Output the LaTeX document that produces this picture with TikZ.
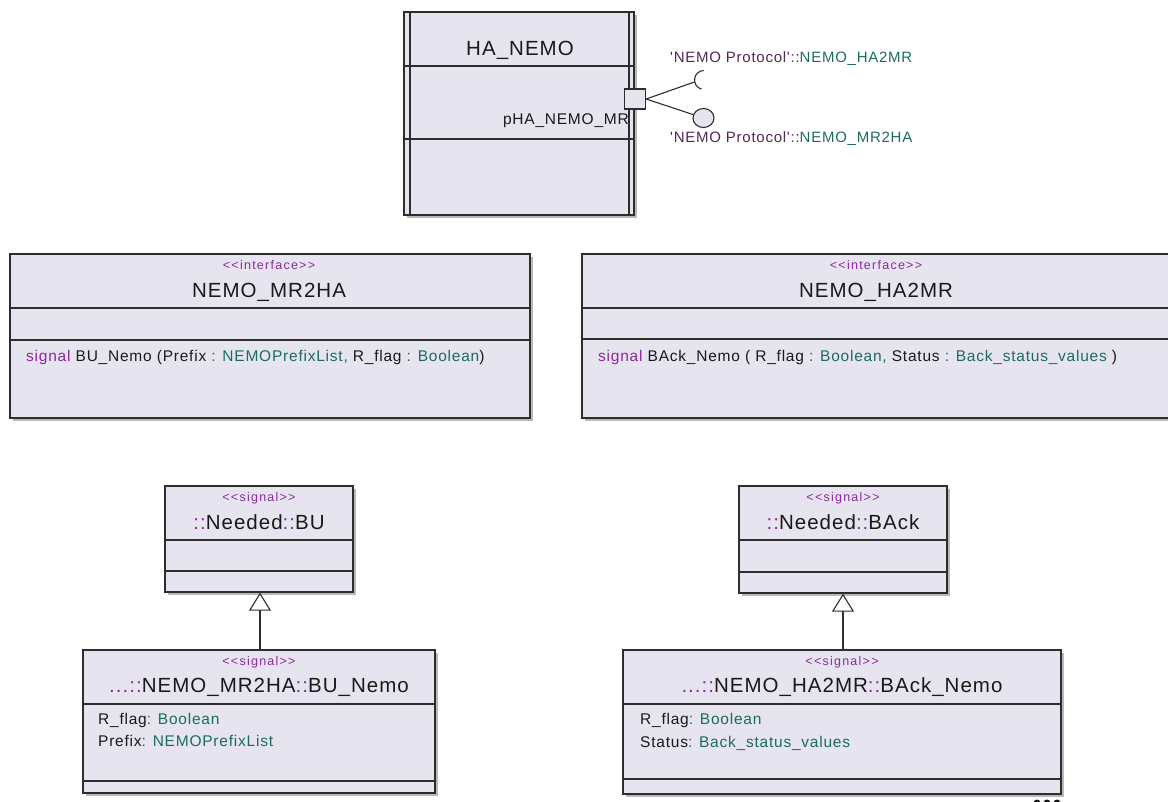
\documentclass[tikz,border=0pt]{standalone}
\usepackage{fontspec}
\setmainfont{Liberation Sans}
\newfontfamily\umlf[LetterSpace=5]{Liberation Sans}
\newfontfamily\umlst[LetterSpace=10]{Liberation Sans}
\usetikzlibrary{arrows.meta,fit,shadows,shapes.geometric}
\definecolor{boxfill}{RGB}{230,228,238}
\definecolor{stpurple}{RGB}{140,42,160}
\definecolor{protopurple}{RGB}{85,38,85}
\definecolor{typeteal}{RGB}{28,108,94}
\definecolor{edgecol}{RGB}{45,45,45}
\definecolor{txtcol}{RGB}{25,25,25}
\definecolor{shadowcol}{RGB}{190,182,182}
\newcommand{\st}[1]{\textcolor{stpurple}{#1}}
\newcommand{\ty}[1]{\textcolor{typeteal}{#1}}
\begin{document}
\begin{tikzpicture}[x=1pt,y=-1pt,
  umlbox/.style={draw=edgecol,line width=1.3pt,fill=boxfill,inner sep=0pt,
    drop shadow={shadow xshift=3pt,shadow yshift=-3pt,fill=shadowcol,opacity=1}},
  sepline/.style={draw=edgecol,line width=1.1pt},
  stereo/.style={font=\umlst\fontsize{12.5}{14}\selectfont,text=stpurple,inner sep=0pt,anchor=base},
  cname/.style={font=\umlf\fontsize{20.5}{24}\selectfont,text=txtcol,inner sep=0pt,anchor=base},
  body/.style={font=\umlf\fontsize{15.5}{18}\selectfont,text=txtcol,inner sep=0pt,anchor=base west},
  proto/.style={font=\umlf\fontsize{15}{18}\selectfont,text=protopurple,inner sep=0pt,anchor=base west},
  conn/.style={draw=edgecol,line width=1.1pt},
  gen/.style={draw=edgecol,line width=1.1pt,-{Triangle[open,fill=white,length=18pt,width=22pt]}}
]
\useasboundingbox (0,0) rectangle (1168,802);
\clip (0,0) rectangle (1168,802);

% ---------- HA_NEMO active class ----------
\node[umlbox,fit={(404,12)(634,215)}] (ha) {};
\draw[sepline] (410,12) -- (410,215);
\draw[sepline] (629,12) -- (629,215);
\draw[sepline] (404,66) -- (634,66);
\draw[sepline] (404,139) -- (634,139);
\node[cname] (haname) at (520,56) {HA\_NEMO};
\node[body,anchor=base east] (portlbl) at (629,125) {pHA\_NEMO\_MR};
\node[draw=edgecol,line width=1.2pt,fill=boxfill,minimum width=21pt,minimum height=20pt,inner sep=0pt] (port) at (635,99) {};
\coordinate (sockc) at (704,80);
\coordinate (sockend) at (694.5,82);
\node[draw=edgecol,line width=1.1pt,fill=boxfill,ellipse,minimum width=21pt,minimum height=19pt,inner sep=0pt] (ball) at (703.5,118) {};
\draw[conn] (port.east) -- (sockend);
\draw[conn] (port.east) -- (ball);
\draw[conn] (sockc) ++(105:9.5) arc[start angle=105,end angle=268,radius=9.5];
\node[proto] (lblha2mr) at (670,63) {'NEMO Protocol'::\ty{NEMO\_HA2MR}};
\node[proto] (lblmr2ha) at (670,143) {'NEMO Protocol'::\ty{NEMO\_MR2HA}};

% ---------- Interface NEMO_MR2HA ----------
\node[umlbox,fit={(10,254)(530,418)}] (imr) {};
\draw[sepline] (10,308) -- (530,308);
\draw[sepline] (10,340) -- (530,340);
\node[stereo] (imrst) at (269,270) {<<interface>>};
\node[cname] (imrname) at (269,298) {NEMO\_MR2HA};
\node[body] (imrsig) at (26,362) {\st{signal} BU\_Nemo (Prefix \ty{: NEMOPrefixList,} R\_flag \ty{: Boolean})};

% ---------- Interface NEMO_HA2MR ----------
\node[umlbox,fit={(582,254)(1180,418)}] (iha) {};
\draw[sepline] (582,308) -- (1180,308);
\draw[sepline] (582,339) -- (1180,339);
\node[stereo] (ihast) at (876,270) {<<interface>>};
\node[cname] (ihaname) at (876,298) {NEMO\_HA2MR};
\node[body] (ihasig) at (598,362) {\st{signal} BAck\_Nemo ( R\_flag \ty{: Boolean,} Status \ty{: Back\_status\_values} )};

% ---------- ::Needed::BU ----------
\node[umlbox,fit={(165,486)(353,592)}] (bu) {};
\draw[sepline] (165,540) -- (353,540);
\draw[sepline] (165,571) -- (353,571);
\node[stereo] (bust) at (259,501) {<<signal>>};
\node[cname] (buname) at (259,529) {\st{::}Needed\st{::}BU};

% ---------- BU_Nemo ----------
\node[umlbox,fit={(83,650)(435,793)}] (bun) {};
\draw[sepline] (83,704) -- (435,704);
\draw[sepline] (83,781) -- (435,781);
\node[stereo] (bunst) at (259,665) {<<signal>>};
\node[cname] (bunname) at (259,692) {\st{...::}NEMO\_MR2HA\st{::}BU\_Nemo};
\node[body] (bunr) at (98,724) {R\_flag\ty{: Boolean}};
\node[body] (bunp) at (98,746) {Prefix\ty{: NEMOPrefixList}};
\draw[gen] (bun.north -| 260,0) -- (bu.south -| 260,0);

% ---------- ::Needed::BAck ----------
\node[umlbox,fit={(739,486)(947,593)}] (ba) {};
\draw[sepline] (739,540) -- (947,540);
\draw[sepline] (739,572) -- (947,572);
\node[stereo] (bast) at (843,501) {<<signal>>};
\node[cname] (baname) at (843,529) {\st{::}Needed\st{::}BAck};

% ---------- BAck_Nemo ----------
\node[umlbox,fit={(623,650)(1061,794)}] (ban) {};
\draw[sepline] (623,704) -- (1061,704);
\draw[sepline] (623,779) -- (1061,779);
\node[stereo] (banst) at (842,665) {<<signal>>};
\node[cname] (banname) at (842,692) {\st{...::}NEMO\_HA2MR\st{::}BAck\_Nemo};
\node[body] (banr) at (640,724) {R\_flag\ty{: Boolean}};
\node[body] (bans) at (640,747) {Status\ty{: Back\_status\_values}};
\draw[gen] (ban.north -| 843,0) -- (ba.south -| 843,0);

% ---------- dots ----------
\fill[txtcol] (1037,803) circle (3.5) (1047,803) circle (3.5) (1057,803) circle (3.5);
\end{tikzpicture}
\end{document}
